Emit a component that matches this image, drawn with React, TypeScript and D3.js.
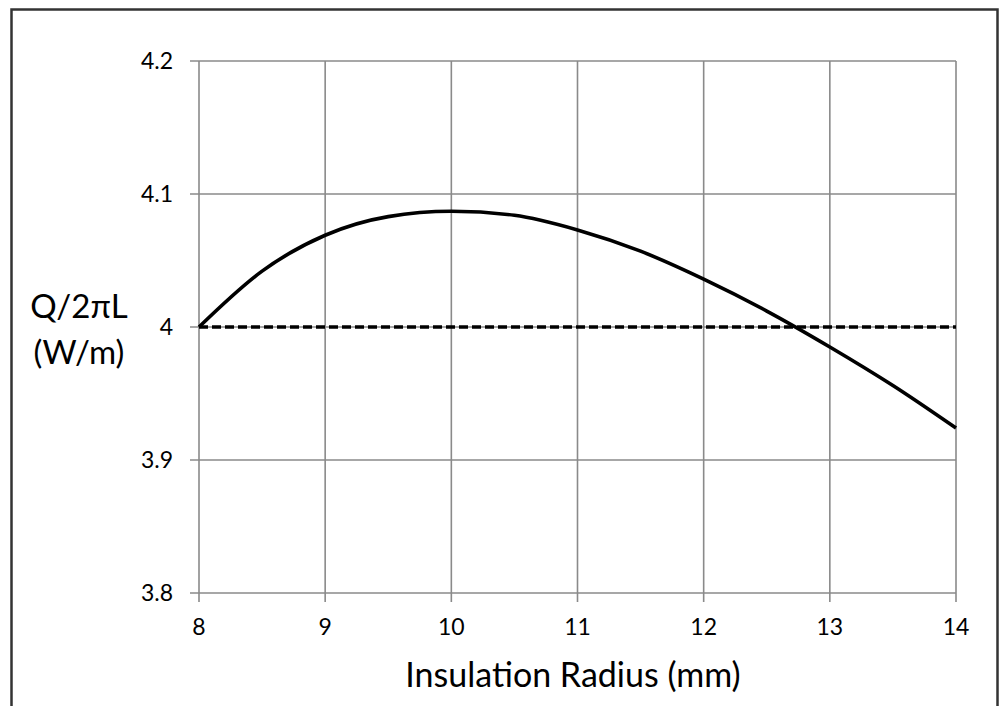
import React, { useRef, useEffect } from 'react';
import * as d3 from 'd3';

// values
const radii = [8, 8.5, 9, 9.5, 10, 10.5, 11, 11.5, 12, 12.5, 13, 13.5, 14];
const heatRate = [4.0, 4.042, 4.069, 4.083, 4.087, 4.084, 4.073, 4.057, 4.036, 4.012, 3.985, 3.956, 3.924];
const bareRate = [4.0, 4.0];
const bareRadii = [8, 14];
const xTicks = [8, 9, 10, 11, 12, 13, 14];
const yTicks = [3.8, 3.9, 4.0, 4.1, 4.2];

const W = 1001;
const H = 706;

const App: React.FC = () => {
  const svgRef = useRef<SVGSVGElement>(null);

  useEffect(() => {
    if (!svgRef.current) return;
    const svg = d3.select(svgRef.current);
    svg.selectAll('*').remove();

    const margin = { top: 61, right: 45, bottom: 113, left: 199 };
    const plotW = W - margin.left - margin.right;
    const plotH = H - margin.top - margin.bottom;
    const font = 'Lato, "Open Sans", sans-serif';

    const x = d3.scaleLinear().domain([8, 14]).range([margin.left, margin.left + plotW]);
    const y = d3.scaleLinear().domain([3.8, 4.2]).range([margin.top + plotH, margin.top]);

    // outer frame
    svg.append('rect')
      .attr('x', 11.5)
      .attr('y', 9.5)
      .attr('width', 986)
      .attr('height', 720)
      .attr('fill', 'white')
      .attr('stroke', '#333')
      .attr('stroke-width', 2.5);

    const grid = svg.append('g').attr('stroke', '#8a8a8a').attr('stroke-width', 1.6);

    // horizontal gridlines + ticks
    yTicks.forEach(t => {
      grid.append('line')
        .attr('x1', margin.left - 9)
        .attr('x2', margin.left + plotW)
        .attr('y1', y(t))
        .attr('y2', y(t));
    });

    // vertical gridlines + ticks
    xTicks.forEach(t => {
      grid.append('line')
        .attr('x1', x(t))
        .attr('x2', x(t))
        .attr('y1', margin.top)
        .attr('y2', margin.top + plotH + 9);
    });

    // tick labels
    svg.append('g')
      .selectAll('text')
      .data(yTicks)
      .enter()
      .append('text')
      .attr('x', 173)
      .attr('y', d => y(d))
      .attr('dy', '0.35em')
      .attr('text-anchor', 'end')
      .style('font-family', font)
      .style('font-size', '23px')
      .style('fill', '#000')
      .text(d => (d === 4 ? '4' : d.toFixed(1)));

    svg.append('g')
      .selectAll('text')
      .data(xTicks)
      .enter()
      .append('text')
      .attr('x', d => x(d))
      .attr('y', 635)
      .attr('text-anchor', 'middle')
      .style('font-family', font)
      .style('font-size', '23px')
      .style('fill', '#000')
      .text(d => String(d));

    // dashed baseline (bare wire)
    const line = d3.line<number>()
      .x((_, i) => x(bareRadii[i]))
      .y(d => y(d));

    svg.append('path')
      .datum(bareRate)
      .attr('d', line)
      .attr('fill', 'none')
      .attr('stroke', '#000')
      .attr('stroke-width', 3.4)
      .attr('stroke-dasharray', '9,4');

    // insulated wire curve
    const curve = d3.line<number>()
      .x((_, i) => x(radii[i]))
      .y(d => y(d))
      .curve(d3.curveMonotoneX);

    svg.append('path')
      .datum(heatRate)
      .attr('d', curve)
      .attr('fill', 'none')
      .attr('stroke', '#000')
      .attr('stroke-width', 3.6);

    // axis titles
    svg.append('text')
      .attr('x', 573)
      .attr('y', 687)
      .attr('text-anchor', 'middle')
      .style('font-family', font)
      .style('font-size', '34px')
      .style('fill', '#000')
      .text('Insulation Radius (mm)');

    const yTitle = svg.append('text')
      .attr('text-anchor', 'middle')
      .style('font-family', font)
      .style('font-size', '33px')
      .style('fill', '#000');
    yTitle.append('tspan').attr('x', 79).attr('y', 318).text('Q/2πL');
    yTitle.append('tspan').attr('x', 79).attr('y', 364).text('(W/m)');
  }, []);

  return (
    <div style={{ position: 'absolute', left: 0, top: 0 }}>
      <svg ref={svgRef} width={W} height={H} style={{ display: 'block' }} />
    </div>
  );
};

export default App;
